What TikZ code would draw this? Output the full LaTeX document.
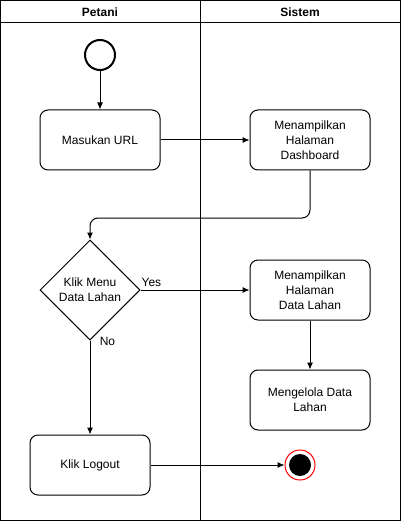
\documentclass[tikz,border=0pt]{standalone}
\usepackage{fontspec}
\setmainfont{Liberation Sans}
\usetikzlibrary{arrows.meta,shapes.geometric}
\begin{document}
\begin{tikzpicture}[x=1pt,y=-1pt,line width=1pt,
  act/.style={draw,rounded corners=8pt,minimum width=120pt,minimum height=60pt,align=center,font=\fontsize{12}{15}\selectfont,inner sep=2pt},
  dec/.style={draw,diamond,minimum width=100pt,minimum height=100pt,aspect=1,align=center,font=\fontsize{12}{15}\selectfont,inner sep=0pt},
  lbl/.style={font=\fontsize{12}{15}\selectfont},
  arr/.style={-{Latex[length=7pt,width=6pt]}},
  hdr/.style={font=\bfseries\fontsize{12}{15}\selectfont}]
\useasboundingbox (0,0) rectangle (401,521);
\draw (0.5,0.5) rectangle (400.5,520.5);
\draw (0.5,23) -- (400.5,23);
\draw (200.5,0.5) -- (200.5,520.5);
\node[hdr] (h1) at (100,12) {Petani};
\node[hdr] (h2) at (300,12) {Sistem};
\node[draw,circle,minimum size=30pt,line width=2pt,inner sep=0pt] (start) at (100,55) {};
\node[act] (url) at (100,140) {Masukan URL};
\node[act] (dash) at (310,140) {Menampilkan\\Halaman\\Dashboard};
\node[dec] (menu) at (90,290) {Klik Menu\\Data Lahan};
\node[act] (lahan) at (310,290) {Menampilkan\\Halaman\\Data Lahan};
\node[act] (kelola) at (310,400) {Mengelola Data\\Lahan};
\node[act] (logout) at (90,465) {Klik Logout};
\node[draw=red,circle,minimum size=30pt,inner sep=0pt] (endo) at (300,465) {};
\node[fill=black,circle,minimum size=22pt,inner sep=0pt] (endi) at (300,465) {};
\draw[arr] (start) -- (url);
\draw[arr] (url) -- (dash);
\draw[arr,rounded corners=8pt] (dash.south) -- (310,218) -- (90,218) -- (menu.north);
\draw[arr] (menu.east) -- node[lbl,pos=0.1,above] {Yes} (lahan.west);
\draw[arr] (menu.south) -- node[lbl,pos=0,right,yshift=-1pt,xshift=6pt] {No} (logout.north);
\draw[arr] (lahan) -- (kelola);
\draw[arr] (logout) -- (endo);
\end{tikzpicture}
\end{document}
